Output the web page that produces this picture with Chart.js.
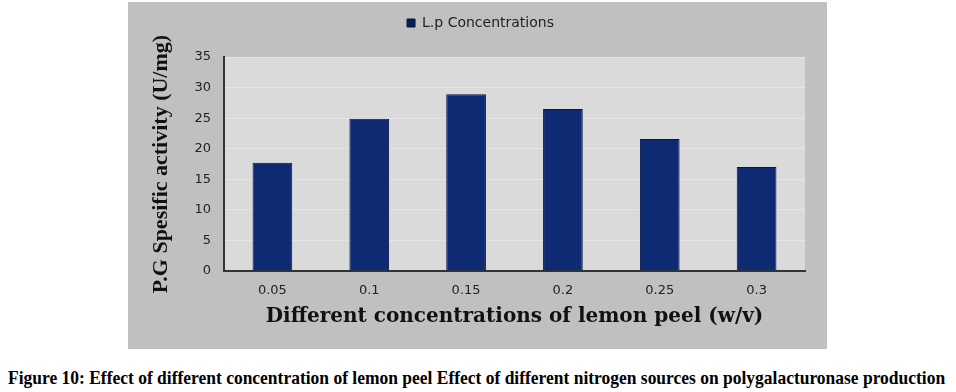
<!DOCTYPE html>
<html>
<head>
<meta charset="utf-8">
<script src="https://cdn.jsdelivr.net/npm/chart.js@4.4.1/dist/chart.umd.min.js"></script>
<style>
  html, body { margin: 0; padding: 0; background: #fff; }
  body { width: 956px; height: 392px; position: relative; overflow: hidden; }
  #box {
    position: absolute; left: 128px; top: 2px; width: 699px; height: 347px;
    background: #c0c0c0;
  }
  #caption {
    position: absolute; left: 8px; top: 367px; white-space: nowrap;
    font-family: "Liberation Serif", serif; font-weight: bold; font-size: 19px;
    color: #000; transform-origin: 0 0;
  }
</style>
</head>
<body>
<div id="box"><canvas id="chart"></canvas></div>
<div id="caption">Figure 10: Effect of different concentration of lemon peel Effect of different nitrogen sources on polygalacturonase production</div>

<script>
// data
const concentrations = ['0.05', '0.1', '0.15', '0.2', '0.25', '0.3'];
const activity = [17.7, 24.9, 28.9, 26.5, 21.6, 17.0];
const yTicks = [0, 5, 10, 15, 20, 25, 30, 35];

// squeeze caption to the width it has in the figure
const cap = document.getElementById('caption');
cap.style.transform = 'scaleX(' + (937 / cap.offsetWidth) + ')';

// light plot background
const plotBg = {
  id: 'plotBg',
  beforeDraw(chart) {
    const { ctx, chartArea: a } = chart;
    ctx.save();
    ctx.fillStyle = '#dadada';
    ctx.fillRect(a.left, a.top, a.right - a.left, a.bottom - a.top);
    ctx.restore();
  }
};

// gap under the legend, and nudge it right a bit
const legendGap = {
  id: 'legendGap',
  beforeInit(chart) {
    const fit = chart.legend.fit;
    chart.legend.fit = function () {
      fit.bind(chart.legend)();
      this.height += 17;
    };
  },
  afterLayout(chart) {
    chart.legend.left += 14;
    chart.legend.right += 14;
  }
};

// bar fill with darker edges, like the bevelled bars
function barFill(context) {
  const chart = context.chart;
  const el = context.element;
  if (!el || !chart.chartArea || !Number.isFinite(el.x)) return '#0d2a72';
  const half = 20;
  const g = chart.ctx.createLinearGradient(el.x - half, 0, el.x + half, 0);
  g.addColorStop(0, '#081d55');
  g.addColorStop(0.12, '#0e2c78');
  g.addColorStop(0.5, '#0f2e7c');
  g.addColorStop(0.88, '#0e2c78');
  g.addColorStop(1, '#081d55');
  return g;
}

const ctx = document.getElementById('chart').getContext('2d');
new Chart(ctx, {
  type: 'bar',
  data: {
    labels: concentrations,
    datasets: [{
      label: 'L.p Concentrations',
      data: activity,
      backgroundColor: barFill,
      borderColor: '#06164a',
      borderWidth: 1,
      categoryPercentage: 1,
      barPercentage: 0.41
    }]
  },
  options: {
    responsive: true,
    maintainAspectRatio: false,
    animation: false,
    layout: { padding: { top: 4, right: 22, left: 0, bottom: 0 } },
    plugins: {
      legend: {
        display: true,
        labels: {
          boxWidth: 8,
          boxHeight: 8,
          color: '#222',
          font: { family: '"DejaVu Sans", sans-serif', size: 14 },
          padding: 10
        }
      },
      tooltip: { enabled: false }
    },
    scales: {
      y: {
        min: 0,
        max: 35,
        afterFit(scale) { scale.width = 96; },
        afterBuildTicks(scale) { scale.ticks = yTicks.map(v => ({ value: v })); },
        border: { display: true, color: '#333', width: 2 },
        grid: { color: 'rgba(255,255,255,0.3)', drawTicks: false },
        ticks: {
          padding: 13,
          color: '#222',
          font: { family: '"DejaVu Sans", sans-serif', size: 13 }
        },
        title: {
          display: true,
          text: 'P.G Spesific activity (U/mg)',
          color: '#111',
          font: { family: '"Liberation Serif", serif', weight: 'bold', size: 22 },
          padding: { top: 20, bottom: 0 }
        }
      },
      x: {
        afterFit(scale) { scale.height = 78; },
        border: { display: true, color: '#333', width: 2 },
        grid: { display: false, drawTicks: false },
        ticks: {
          padding: 12,
          color: '#222',
          font: { family: '"DejaVu Sans", sans-serif', size: 13 }
        },
        title: {
          display: true,
          text: 'Different concentrations of lemon peel (w/v)',
          color: '#111',
          font: { family: '"DejaVu Serif", serif', weight: 'bold', size: 20 },
          padding: { top: 0, bottom: 20 }
        }
      }
    }
  },
  plugins: [plotBg, legendGap]
});
</script>
</body>
</html>
